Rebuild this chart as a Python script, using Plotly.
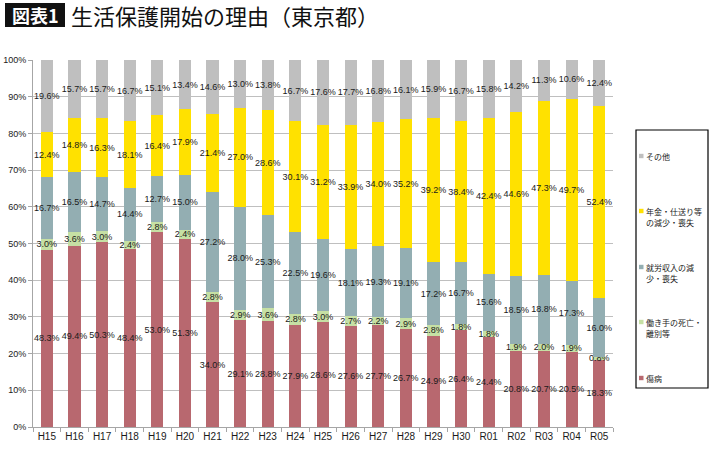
import plotly.graph_objects as go

categories = ["H15", "H16", "H17", "H18", "H19", "H20", "H21", "H22", "H23", "H24", "H25",
              "H26", "H27", "H28", "H29", "H30", "R01", "R02", "R03", "R04", "R05"]

shobyo = [48.3, 49.4, 50.3, 48.4, 53.0, 51.3, 34.0, 29.1, 28.8, 27.9, 28.6,
          27.6, 27.7, 26.7, 24.9, 26.4, 24.4, 20.8, 20.7, 20.5, 18.3]
hatarakite = [3.0, 3.6, 3.0, 2.4, 2.8, 2.4, 2.8, 2.9, 3.6, 2.8, 3.0,
              2.7, 2.2, 2.9, 2.8, 1.8, 1.8, 1.9, 2.0, 1.9, 0.8]
shuro = [16.7, 16.5, 14.7, 14.4, 12.7, 15.0, 27.2, 28.0, 25.3, 22.5, 19.6,
         18.1, 19.3, 19.1, 17.2, 16.7, 15.6, 18.5, 18.8, 17.3, 16.0]
nenkin = [12.4, 14.8, 16.3, 18.1, 16.4, 17.9, 21.4, 27.0, 28.6, 30.1, 31.2,
          33.9, 34.0, 35.2, 39.2, 38.4, 42.4, 44.6, 47.3, 49.7, 52.4]
sonota = [19.6, 15.7, 15.7, 16.7, 15.1, 13.4, 14.6, 13.0, 13.8, 16.7, 17.6,
          17.7, 16.8, 16.1, 15.9, 16.7, 15.8, 14.2, 11.3, 10.6, 12.4]

series_names = ["傷病", "働き手の死亡・離別等", "就労収入の減少・喪失", "年金・仕送り等の減少・喪失", "その他"]
legend_lines = [["傷病"], ["働き手の死亡・", "離別等"], ["就労収入の減", "少・喪失"],
                ["年金・仕送り等", "の減少・喪失"], ["その他"]]
series_values = [shobyo, hatarakite, shuro, nenkin, sonota]
colors = ["#B8686F", "#C6E0A4", "#93AEB2", "#FFE100", "#BFBFBF"]

FONT = "Noto Sans CJK JP, Liberation Sans, sans-serif"
W, H = 710, 450
ML, MR, MT, MB = 33, 97, 60, 23
PW, PH = W - ML - MR, H - MT - MB


def px_x(px):
    return (px - ML) / PW


def px_y(py):
    return (H - MB - py) / PH


fig = go.Figure()
for name, vals, col in zip(series_names, series_values, colors):
    fig.add_trace(go.Bar(
        x=categories, y=[v / 100 for v in vals], name=name,
        marker=dict(color=col, line=dict(width=0)),
        width=0.44,
        text=[f"{v:.1f}%" for v in vals],
        textposition="inside", insidetextanchor="middle",
        constraintext="none", textangle=0,
        textfont=dict(family="Liberation Sans, Arial, sans-serif", size=9, color="#1a1a1a"),
        showlegend=False,
        hoverinfo="skip",
    ))

shapes = []
annotations = []

# title
shapes.append(dict(type="rect", xref="paper", yref="paper",
                   x0=px_x(5), x1=px_x(65), y0=px_y(27), y1=px_y(3),
                   fillcolor="#111111", line=dict(width=0)))
annotations.append(dict(xref="paper", yref="paper", x=px_x(35), y=px_y(15),
                        text="<b>図表1</b>", showarrow=False, xanchor="center", yanchor="middle",
                        font=dict(family=FONT, size=18, color="white")))
annotations.append(dict(xref="paper", yref="paper", x=px_x(69), y=px_y(15),
                        text="生活保護開始の理由（東京都）", showarrow=False,
                        xanchor="left", yanchor="middle",
                        font=dict(family=FONT, size=22, color="#111111")))

# legend box
shapes.append(dict(type="rect", xref="paper", yref="paper",
                   x0=px_x(636), x1=px_x(708), y0=px_y(388), y1=px_y(130),
                   fillcolor="white", line=dict(color="#000000", width=1.2)))
legend_y = {"その他": 156, "年金・仕送り等の減少・喪失": 211, "就労収入の減少・喪失": 267,
            "働き手の死亡・離別等": 322, "傷病": 378}
for name, lines, col in zip(series_names, legend_lines, colors):
    y0 = legend_y[name]
    shapes.append(dict(type="rect", xref="paper", yref="paper",
                       x0=px_x(639), x1=px_x(643.5), y0=px_y(y0 + 2.2), y1=px_y(y0 - 2.2),
                       fillcolor=col, line=dict(width=0)))
    for i, ln in enumerate(lines):
        annotations.append(dict(xref="paper", yref="paper", x=px_x(644.5), y=px_y(y0 + i * 11.5),
                                text=ln, showarrow=False, xanchor="left", yanchor="middle",
                                borderpad=0,
                                font=dict(family=FONT, size=8, color="#1a1a1a")))

fig.update_layout(
    width=W, height=H, barmode="stack",
    margin=dict(l=ML, r=MR, t=MT, b=MB, pad=0, autoexpand=False),
    paper_bgcolor="white", plot_bgcolor="white",
    font=dict(family=FONT, color="#1a1a1a"),
    shapes=shapes, annotations=annotations,
    xaxis=dict(type="category", showgrid=False, showline=True, linecolor="#A6A6A6",
               ticks="outside", tickson="boundaries", ticklen=4, tickcolor="#A6A6A6",
               tickangle=0, automargin=False,
               tickfont=dict(family="Liberation Sans, Arial, sans-serif", size=10, color="#1a1a1a")),
    yaxis=dict(range=[0, 1], tickvals=[i / 10 for i in range(11)],
               ticktext=[f"{i * 10}%" for i in range(11)],
               showgrid=True, gridcolor="#BFBFBF", gridwidth=1,
               showline=True, linecolor="#A6A6A6", ticks="outside", ticklen=4,
               tickcolor="#A6A6A6", zeroline=False, automargin=False,
               tickfont=dict(family="Liberation Sans, Arial, sans-serif", size=9, color="#1a1a1a")),
)

fig.write_html("out.html", config={"displayModeBar": False},
               post_script="document.body.style.margin='0';document.body.style.overflow='hidden';")
